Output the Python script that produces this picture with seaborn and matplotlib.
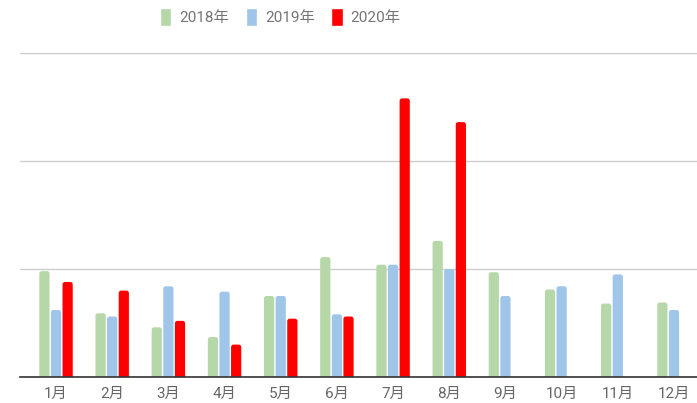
import pandas as pd
import numpy as np
import seaborn as sns
import matplotlib.pyplot as plt
from matplotlib.patches import FancyBboxPatch

months = ["1月", "2月", "3月", "4月", "5月", "6月", "7月", "8月", "9月", "10月", "11月", "12月"]
years = ["2018年", "2019年", "2020年"]
sales_2018 = [98, 59, 46, 37, 75, 111, 104, 126, 97, 81, 68, 69]
sales_2019 = [62, 56, 84, 79, 75, 58, 104, 100, 75, 84, 95, 62]
sales_2020 = [88, 80, 52, 30, 54, 56, 258, 236, np.nan, np.nan, np.nan, np.nan]
colors = ["#b6d7a8", "#9fc5e8", "#ff0000"]

df = pd.DataFrame({
    "month": months * 3,
    "year": [years[0]] * 12 + [years[1]] * 12 + [years[2]] * 12,
    "value": sales_2018 + sales_2019 + sales_2020,
})

sns.set_style("white")
plt.rcParams["font.family"] = ["Roboto", "Noto Sans CJK SC", "DejaVu Sans"]

fig = plt.figure(figsize=(6.97, 4.03), dpi=100)
ax = fig.add_axes([19.5 / 697, 1 - 377 / 403, 1 - 19.5 / 697, (377 - 53) / 403])

sns.barplot(data=df, x="month", y="value", hue="year", order=months,
            hue_order=years, palette=colors, width=0.62, gap=0.12,
            saturation=1, ax=ax, legend=True)

ax.set_xlim(-0.65, 11.41)
ax.set_ylim(0, 300)

# round the bar tops a little (like the original chart)
px_x = (11.41 + 0.65) / 677.5
px_y = 300 / 324
for bar in list(ax.patches):
    x, y = bar.get_x(), bar.get_y()
    w, h = bar.get_width(), bar.get_height()
    if not np.isfinite(h) or h <= 0:
        continue
    r = 2.5 * px_x
    rounded = FancyBboxPatch((x, y - 3 * px_y), w, h + 3 * px_y,
                             boxstyle=f"round,pad=0,rounding_size={r}",
                             mutation_aspect=px_y / px_x,
                             facecolor=bar.get_facecolor(), edgecolor="none",
                             zorder=bar.get_zorder())
    bar.set_visible(False)
    ax.add_patch(rounded)

ax.set_yticks([0, 100, 200, 300])
ax.set_yticklabels([])
ax.yaxis.grid(True, color="#cccccc", linewidth=1)
ax.set_axisbelow(True)
for s in ["top", "right", "left"]:
    ax.spines[s].set_visible(False)
ax.spines["bottom"].set_color("#333333")
ax.spines["bottom"].set_linewidth(1.2)
ax.spines["bottom"].set_zorder(5)
ax.tick_params(axis="x", length=0, pad=7, labelsize=11, labelcolor="#666666")
ax.tick_params(axis="y", length=0)
ax.set_xlabel("")
ax.set_ylabel("")

handles, labels = ax.get_legend_handles_labels()
ax.get_legend().remove()
fig.legend(handles, labels, loc="center left", bbox_to_anchor=(160 / 697, 1 - 17 / 403),
           ncol=3, frameon=False, fontsize=11, labelcolor="#757575",
           handlelength=0.75, handleheight=1.5, handletextpad=0.5,
           columnspacing=1.1, borderpad=0, borderaxespad=0)

fig.savefig("out.png", dpi=100)
